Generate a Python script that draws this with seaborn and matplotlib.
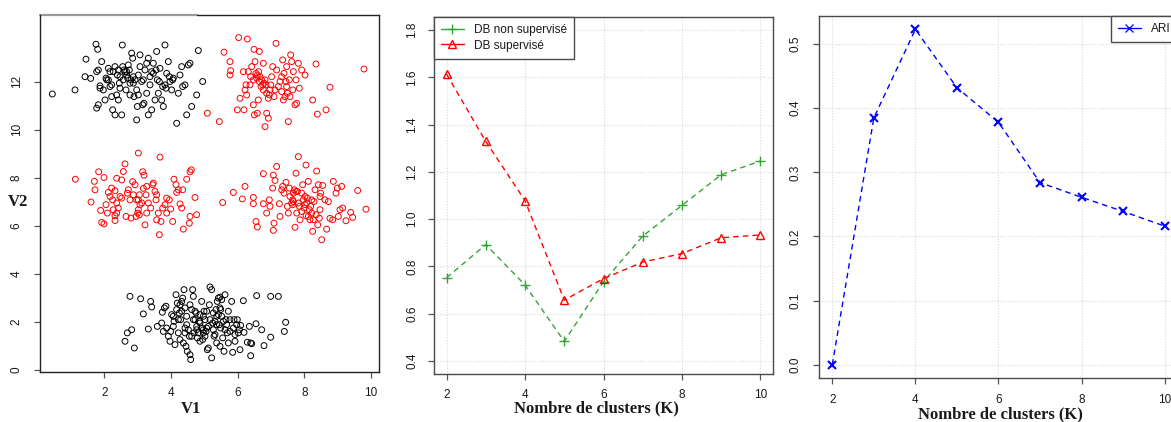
import matplotlib
matplotlib.use("Agg")
import matplotlib.pyplot as plt
import numpy as np
import pandas as pd
import seaborn as sns

# ---------------------------------------------------------------
# Données : nuage de points (V1, V2), cinq groupes
# ---------------------------------------------------------------
groupe_haut_gauche = [
    (0.44, 11.48), (1.12, 11.65), (1.42, 12.2), (1.45, 12.93), (1.59, 12.13),
    (1.75, 13.55), (1.8, 13.34), (1.77, 12.41), (1.82, 12.48), (1.92, 12.83),
    (1.77, 10.89), (1.82, 11.03), (1.87, 11.82), (1.87, 11.72), (1.97, 11.65),
    (2.02, 11.23), (2.05, 12.14), (2.07, 12.07), (2.12, 12.55), (2.17, 12.41),
    (2.22, 11.86), (2.25, 10.82), (2.32, 10.61), (2.37, 11.44), (2.42, 12.48),
    (2.47, 11.72), (2.52, 10.61), (2.54, 13.52), (2.57, 12.07), (2.62, 12.41),
    (2.67, 12.27), (2.65, 11.65), (2.72, 12.69), (2.77, 11.93), (2.82, 13.18),
    (2.85, 12.97), (2.87, 12.2), (2.92, 12.07), (2.97, 11.65), (2.97, 10.4),
    (2.99, 10.96), (3.02, 11.44), (3.07, 13.11), (3.07, 12.62), (3.12, 12.0),
    (3.15, 11.03), (3.22, 12.48), (3.27, 11.51), (3.32, 10.61), (3.32, 12.97),
    (3.37, 11.86), (3.42, 12.41), (3.47, 12.76), (3.52, 11.23), (3.57, 13.25),
    (3.59, 12.07), (3.62, 11.51), (3.67, 12.55), (3.72, 11.23), (3.77, 10.96),
    (3.82, 13.52), (3.82, 11.86), (3.87, 12.34), (3.92, 12.83), (3.97, 12.0),
    (4.02, 11.65), (4.07, 12.14), (4.17, 10.26), (4.22, 11.51), (4.27, 12.27),
    (4.32, 12.62), (4.42, 11.86), (4.47, 10.61), (4.52, 12.69), (4.57, 12.76),
    (4.62, 10.96), (4.77, 11.44), (4.82, 13.29), (4.95, 12.0), (2.27, 12.41),
    (2.32, 12.62), (2.45, 11.93), (2.55, 12.62), (2.59, 12.48), (2.67, 12.41),
    (2.7, 12.14), (2.75, 12.48), (2.8, 12.07), (2.87, 11.93), (2.47, 12.2),
    (2.39, 12.27), (2.17, 11.79), (2.12, 12.07), (3.02, 12.27), (3.17, 12.07),
    (3.27, 12.76), (3.37, 12.2), (3.47, 12.34), (3.55, 12.48), (3.65, 12.0),
    (3.75, 11.79), (3.85, 11.72), (3.95, 12.2), (4.05, 12.07), (4.35, 11.79),
    (2.22, 11.37), (2.42, 11.23), (2.89, 11.37), (3.19, 11.09), (3.42, 10.82),
    (2.77, 11.44),
]

groupe_haut_droite = [
    (5.09, 10.68), (5.45, 10.33), (5.59, 13.22), (5.77, 12.83), (5.79, 12.45),
    (5.77, 12.27), (5.99, 10.82), (6.03, 13.83), (6.07, 11.3), (6.17, 12.41),
    (6.19, 10.82), (6.22, 11.65), (6.25, 11.86), (6.29, 13.77), (6.27, 11.44),
    (6.32, 12.41), (6.37, 11.86), (6.42, 12.62), (6.47, 11.03), (6.49, 13.34),
    (6.5, 10.61), (6.52, 12.83), (6.55, 12.34), (6.57, 12.14), (6.59, 10.68),
    (6.62, 11.23), (6.65, 13.25), (6.67, 12.2), (6.7, 11.79), (6.72, 12.07),
    (6.77, 12.76), (6.79, 11.93), (6.82, 10.12), (6.85, 11.86), (6.87, 10.68),
    (6.92, 10.47), (6.95, 11.44), (6.97, 11.65), (7.05, 12.62), (7.09, 11.37),
    (7.15, 13.59), (7.17, 12.48), (7.22, 11.79), (7.27, 12.0), (7.32, 12.2),
    (7.35, 12.9), (7.39, 12.34), (7.42, 11.37), (7.45, 12.0), (7.47, 12.62),
    (7.49, 11.51), (7.52, 10.33), (7.55, 12.07), (7.59, 13.11), (7.62, 12.83),
    (7.65, 11.65), (7.67, 12.41), (7.72, 11.03), (7.75, 12.07), (7.77, 11.09),
    (7.82, 12.76), (7.85, 11.72), (7.92, 12.48), (8.02, 12.27), (8.25, 11.23),
    (8.35, 12.73), (8.39, 10.64), (8.65, 10.82), (8.77, 11.76), (9.79, 12.52),
    (6.59, 12.27), (6.65, 12.0), (6.75, 11.86), (6.82, 12.07), (6.63, 12.41),
    (6.77, 11.65), (6.87, 11.51), (6.99, 11.86), (6.47, 12.07), (6.39, 12.2),
    (7.12, 11.65), (7.32, 11.58), (7.47, 11.79), (7.57, 11.37), (7.37, 11.23),
    (6.92, 11.3), (7.02, 12.2),
]

groupe_milieu_gauche = [
    (1.13, 7.93), (1.6, 6.98), (1.7, 7.84), (1.72, 7.49), (1.83, 8.24),
    (1.89, 6.63), (1.92, 6.13), (1.99, 6.07), (1.99, 8.0), (2.05, 6.87),
    (2.09, 6.52), (2.12, 7.38), (2.17, 7.21), (2.22, 7.56), (2.25, 7.07),
    (2.27, 6.66), (2.32, 6.21), (2.32, 7.45), (2.37, 7.97), (2.37, 6.52),
    (2.42, 6.73), (2.47, 7.21), (2.52, 7.9), (2.57, 8.25), (2.62, 8.57),
    (2.65, 6.38), (2.69, 7.35), (2.72, 7.49), (2.77, 7.07), (2.8, 6.31),
    (2.85, 7.83), (2.87, 7.28), (2.92, 7.7), (2.95, 6.38), (2.97, 7.07),
    (3.0, 6.52), (3.02, 9.02), (3.05, 7.28), (3.07, 6.87), (3.12, 6.94),
    (3.15, 8.24), (3.17, 7.55), (3.19, 8.1), (3.22, 6.03), (3.25, 7.28),
    (3.32, 6.94), (3.39, 6.73), (3.45, 7.7), (3.47, 7.77), (3.52, 7.42),
    (3.55, 7.07), (3.57, 7.28), (3.62, 6.52), (3.65, 5.62), (3.67, 8.85),
    (3.7, 6.17), (3.75, 6.73), (3.82, 6.87), (3.87, 7.14), (3.95, 7.07),
    (3.99, 6.69), (4.05, 6.17), (4.09, 7.93), (4.15, 7.7), (4.17, 7.38),
    (4.22, 7.49), (4.27, 6.9), (4.32, 6.73), (4.35, 7.49), (4.37, 5.85),
    (4.47, 7.93), (4.55, 6.1), (4.57, 6.38), (4.57, 8.24), (4.61, 8.32),
    (4.72, 7.17), (4.77, 6.45), (3.02, 6.66), (3.05, 6.45), (3.02, 7.07),
    (3.27, 7.63), (2.37, 6.94), (2.32, 6.41), (2.52, 7.14), (3.57, 6.24),
    (3.87, 6.52), (3.27, 6.52),
]

groupe_milieu_droite = [
    (5.55, 6.96), (5.87, 7.38), (6.14, 7.11), (6.22, 7.63), (6.47, 6.91),
    (6.47, 7.17), (6.55, 6.17), (6.59, 5.94), (6.77, 8.16), (6.77, 6.91),
    (6.87, 6.52), (6.97, 6.8), (6.95, 7.07), (7.05, 7.56), (7.07, 5.8),
    (7.07, 8.1), (7.09, 6.1), (7.12, 7.88), (7.17, 8.46), (7.25, 6.91),
    (7.27, 6.38), (7.32, 7.49), (7.35, 7.63), (7.39, 7.35), (7.45, 7.8),
    (7.49, 6.8), (7.55, 7.56), (7.57, 7.21), (7.62, 6.94), (7.65, 6.87),
    (7.67, 7.0), (7.7, 7.49), (7.72, 5.93), (7.75, 7.42), (7.75, 8.18),
    (7.77, 6.52), (7.79, 7.42), (7.82, 8.87), (7.85, 6.8), (7.87, 6.24),
    (7.92, 7.35), (7.95, 7.7), (7.97, 7.07), (7.99, 6.73), (8.02, 7.21),
    (8.05, 8.52), (8.05, 6.41), (8.07, 6.94), (8.09, 7.14), (8.12, 7.84),
    (8.15, 6.66), (8.17, 6.24), (8.19, 6.8), (8.22, 6.52), (8.25, 5.76),
    (8.29, 7.0), (8.32, 7.49), (8.35, 6.45), (8.37, 8.27), (8.4, 6.03),
    (8.42, 7.7), (8.45, 6.31), (8.47, 7.21), (8.49, 7.35), (8.52, 5.41),
    (8.55, 7.67), (8.62, 7.07), (8.67, 5.85), (8.72, 7.0), (8.77, 6.3),
    (8.85, 6.24), (8.87, 7.84), (8.95, 7.35), (8.99, 7.56), (9.02, 6.38),
    (9.07, 6.66), (9.12, 7.63), (9.15, 6.73), (9.25, 6.2), (9.39, 6.55),
    (9.45, 6.34), (9.6, 7.46), (9.85, 6.68), (7.65, 7.07), (7.82, 6.94),
    (7.92, 6.59), (8.02, 6.87), (8.12, 6.38), (8.27, 6.24), (8.22, 7.07),
    (7.67, 7.35), (8.47, 6.66), (7.52, 6.52),
]

groupe_bas = [
    (2.62, 1.18), (2.69, 1.53), (2.77, 3.05), (2.82, 1.66), (2.9, 0.9),
    (3.09, 2.95), (3.17, 2.32), (3.32, 1.69), (3.39, 2.84), (3.42, 2.61),
    (3.59, 1.8), (3.72, 1.94), (3.74, 2.39), (3.8, 2.57), (3.85, 2.64),
    (3.87, 1.73), (3.92, 1.39), (3.97, 1.18), (4.02, 2.29), (4.07, 1.8),
    (4.09, 2.01), (4.12, 1.04), (4.15, 3.12), (4.17, 2.5), (4.19, 2.77),
    (4.22, 1.53), (4.25, 2.36), (4.27, 2.7), (4.29, 2.08), (4.32, 2.84),
    (4.35, 2.98), (4.37, 1.11), (4.39, 3.33), (4.42, 1.73), (4.45, 0.97),
    (4.47, 2.22), (4.49, 0.76), (4.52, 1.66), (4.55, 1.39), (4.57, 0.62),
    (4.59, 0.42), (4.62, 2.5), (4.65, 3.33), (4.67, 3.05), (4.69, 1.53),
    (4.72, 2.08), (4.75, 2.36), (4.77, 1.8), (4.79, 1.32), (4.82, 1.53),
    (4.85, 2.01), (4.87, 2.29), (4.92, 2.84), (4.95, 1.25), (4.97, 1.66),
    (4.99, 2.43), (5.02, 2.08), (5.05, 1.59), (5.07, 1.73), (5.09, 0.83),
    (5.12, 0.9), (5.15, 2.7), (5.17, 3.44), (5.22, 3.33), (5.22, 0.49),
    (5.25, 1.94), (5.27, 2.36), (5.29, 1.39), (5.32, 2.01), (5.35, 2.5),
    (5.37, 1.11), (5.39, 2.84), (5.42, 2.98), (5.45, 1.87), (5.47, 3.02),
    (5.49, 1.73), (5.52, 2.22), (5.55, 1.32), (5.59, 0.76), (5.62, 3.12),
    (5.65, 2.08), (5.69, 1.53), (5.72, 2.43), (5.77, 1.59), (5.82, 2.84),
    (5.85, 0.72), (5.89, 2.08), (5.92, 1.18), (5.97, 1.87), (5.99, 2.08),
    (6.05, 1.66), (6.07, 0.83), (6.09, 1.84), (6.17, 2.87), (6.19, 1.55),
    (6.29, 1.14), (6.35, 1.8), (6.39, 1.11), (6.39, 0.58), (6.42, 1.08),
    (6.55, 1.91), (6.57, 3.08), (6.72, 1.66), (6.79, 1.0), (6.99, 1.35),
    (6.99, 3.05), (7.22, 3.05), (7.4, 1.59), (7.44, 1.97), (4.42, 1.53),
    (4.47, 1.87), (4.62, 1.39), (4.67, 2.08), (4.77, 1.66), (4.87, 1.94),
    (4.92, 1.73), (4.97, 1.53), (5.02, 1.39), (5.12, 1.8), (5.17, 2.08),
    (5.27, 1.66), (5.32, 1.46), (5.37, 1.87), (5.42, 2.29), (5.47, 2.57),
    (5.52, 2.91), (5.57, 2.01), (5.62, 1.66), (5.67, 1.87), (5.77, 2.08),
    (5.87, 1.73), (5.92, 1.46), (6.02, 1.53), (4.27, 1.25), (4.22, 2.08),
    (4.32, 2.43), (4.87, 1.18), (5.07, 2.43), (4.97, 2.22), (4.72, 2.43),
    (4.57, 2.7), (4.42, 2.57), (4.07, 2.22), (3.99, 1.59), (3.77, 1.59),
    (5.37, 2.22), (5.49, 2.5), (5.72, 1.11), (5.47, 0.97),
]

couleur_groupe = ["noir", "rouge", "rouge", "rouge", "noir"]

# ---------------------------------------------------------------
# Indices de Davies-Bouldin et ARI selon le nombre de clusters
# ---------------------------------------------------------------
nb_clusters = [2, 3, 4, 5, 6, 7, 8, 9, 10]
db_non_supervise = [0.752, 0.892, 0.721, 0.482, 0.735, 0.928, 1.058, 1.188, 1.246]
db_supervise = [1.614, 1.329, 1.078, 0.657, 0.748, 0.818, 0.854, 0.921, 0.933]
ari = [0.0, 0.385, 0.523, 0.432, 0.378, 0.284, 0.261, 0.239, 0.216]

# ---------------------------------------------------------------
sns.set_theme(style="white")
plt.rcParams["font.family"] = ["Liberation Sans", "DejaVu Sans"]

W, H = 1171, 422
fig = plt.figure(figsize=(W / 100, H / 100), dpi=100)


def px_axes(x0, y0, x1, y1):
    return fig.add_axes([x0 / W, 1 - y1 / H, (x1 - x0) / W, (y1 - y0) / H])


ax1 = px_axes(40, 15, 379, 372)
ax2 = px_axes(434, 17, 773, 374)
ax3 = px_axes(819, 16, 1178, 378)

TXT = "#1a1a1a"
SPINE = "#4a4a4a"
GRID = "#d9d9d9"
VERT = "#36a336"
DASH = (0, (4.0, 3.0))


def style_axes(ax, spine_col, ypad, xpad):
    for s in ax.spines.values():
        s.set_color(spine_col)
        s.set_linewidth(1.0)
    ax.tick_params(axis="both", which="major", direction="out", length=4.5,
                   width=0.9, color="#555555", labelsize=8.5, labelcolor=TXT,
                   bottom=True, left=True)
    ax.tick_params(axis="y", labelrotation=90, pad=ypad)
    ax.tick_params(axis="x", pad=xpad)
    for lab in ax.get_yticklabels():
        lab.set_va("center")
    ax.set_xlabel("")
    ax.set_ylabel("")


def courbe(ax, y, couleur, marqueur, taille, epaisseur, nom, face="none"):
    sns.lineplot(x=nb_clusters, y=y, ax=ax, color=couleur, lw=1.0,
                 marker=marqueur, markersize=taille,
                 markeredgecolor=couleur, markerfacecolor=face,
                 markeredgewidth=epaisseur, label=nom)
    ligne = ax.get_lines()[-1]
    ligne.set_linestyle(DASH)
    return ligne


# --- Panneau 1 : nuage de points --------------------------------
frames = []
for i, pts in enumerate([groupe_haut_gauche, groupe_haut_droite,
                         groupe_milieu_gauche, groupe_milieu_droite, groupe_bas]):
    arr = np.array(pts)
    frames.append(pd.DataFrame({"V1": arr[:, 0], "V2": arr[:, 1],
                                "classe": couleur_groupe[i]}))
nuage = pd.concat(frames, ignore_index=True)

for classe, col in [("noir", "black"), ("rouge", "red")]:
    sub = nuage[nuage["classe"] == classe]
    sns.scatterplot(data=sub, x="V1", y="V2", ax=ax1, color=col,
                    facecolor="none", edgecolor=col, s=18, linewidth=0.7,
                    marker="o", legend=False)

ax1.set_xlim(0.07, 10.24)
ax1.set_ylim(-0.1, 14.77)
ax1.set_xticks([2, 4, 6, 8, 10])
ax1.set_yticks([0, 2, 4, 6, 8, 10, 12])
style_axes(ax1, "#222222", 8, 6)
ax1.spines["top"].set_visible(False)
ax1.plot([0, 0.463], [1, 1], transform=ax1.transAxes, color="#9a9a9a",
         lw=1.6, clip_on=False)
ax1.plot([0.463, 1], [1, 1], transform=ax1.transAxes, color="#222222",
         lw=1.0, clip_on=False)

# --- Panneau 2 : Davies-Bouldin ---------------------------------
courbe(ax2, db_non_supervise, VERT, "+", 7, 1.0, "DB non supervisé")
courbe(ax2, db_supervise, "red", "^", 5.5, 1.0, "DB supervisé")
ax2.set_xlim(1.68, 10.32)
ax2.set_ylim(0.344, 1.856)
ax2.set_xticks([2, 4, 6, 8, 10])
ax2.set_yticks([0.4, 0.6, 0.8, 1.0, 1.2, 1.4, 1.6, 1.8])
ax2.grid(True, color=GRID, linestyle=(0, (1, 1.5)), lw=0.8)
ax2.set_axisbelow(True)
style_axes(ax2, SPINE, 7, 6)

h, l = ax2.get_legend_handles_labels()
leg2 = ax2.legend(h, l, loc="upper left", bbox_to_anchor=(0, 1),
                  borderaxespad=0, frameon=True, fancybox=False,
                  edgecolor=SPINE, framealpha=1, fontsize=8.5,
                  handlelength=1.9, handletextpad=0.9, labelspacing=0.3,
                  borderpad=0.6)
leg2.get_frame().set_linewidth(1.0)
for lh in leg2.get_lines():
    lh.set_linestyle("-")
for t in leg2.get_texts():
    t.set_color(TXT)

# --- Panneau 3 : ARI --------------------------------------------
courbe(ax3, ari, "blue", "x", 5.5, 1.5, "ARI")
ax3.set_xlim(1.68, 10.32)
ax3.set_ylim(-0.0209, 0.5439)
ax3.set_xticks([2, 4, 6, 8, 10])
ax3.set_yticks([0.0, 0.1, 0.2, 0.3, 0.4, 0.5])
ax3.grid(True, color=GRID, linestyle=(0, (1, 1.5)), lw=0.8)
ax3.set_axisbelow(True)
style_axes(ax3, SPINE, 8, 7)

h, l = ax3.get_legend_handles_labels()
leg3 = ax3.legend(h, l, loc="upper right", bbox_to_anchor=(1, 1),
                  borderaxespad=0, frameon=True, fancybox=False,
                  edgecolor=SPINE, framealpha=1, fontsize=8.5,
                  handlelength=1.9, handletextpad=0.9, borderpad=0.6)
leg3.get_frame().set_linewidth(1.0)
for lh in leg3.get_lines():
    lh.set_linestyle("-")
    lh.set_markeredgewidth(0.9)
for t in leg3.get_texts():
    t.set_color(TXT)

# --- Titres des axes --------------------------------------------
lab_kw = dict(family=["Liberation Serif", "DejaVu Serif"], weight="bold",
              fontsize=12, color=TXT, ha="center", va="center")
fig.text(191 / W, 1 - 409 / H, "V1", **lab_kw)
fig.text(18 / W, 1 - 202 / H, "V2", **lab_kw)
fig.text(596 / W, 1 - 408 / H, "Nombre de clusters (K)", **lab_kw)
fig.text(1000 / W, 1 - 414 / H, "Nombre de clusters (K)", **lab_kw)

fig.savefig("out.png", dpi=100)
